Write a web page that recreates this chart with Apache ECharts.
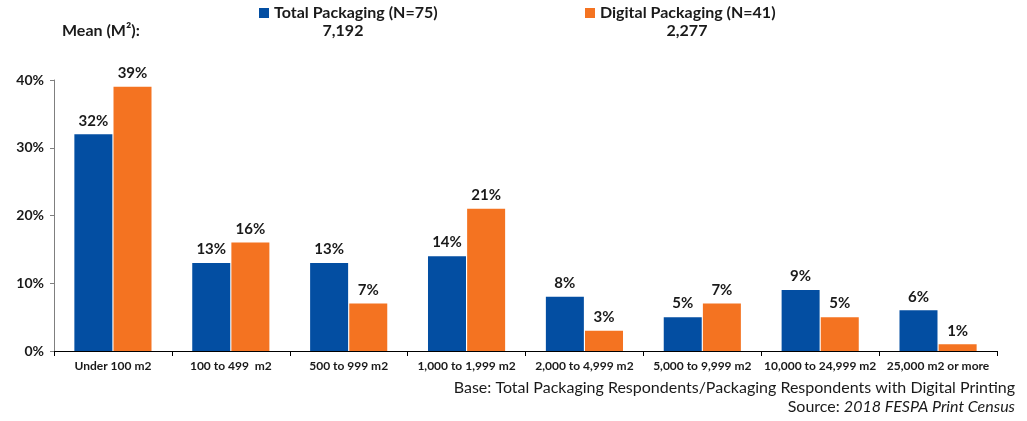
<!DOCTYPE html>
<html>
<head>
<meta charset="utf-8">
<script src="https://cdn.jsdelivr.net/npm/echarts@6/dist/echarts.min.js"></script>
<style>
  html, body { margin: 0; padding: 0; background: #fff; }
  #chart { width: 1027px; height: 421px; }
</style>
</head>
<body>
<div id="chart"></div>
<script>
var categories = ["Under 100 m2", "100 to 499  m2", "500 to 999 m2", "1,000 to 1,999 m2",
  "2,000 to 4,999 m2", "5,000 to 9,999 m2", "10,000 to 24,999 m2", "25,000 m2 or more"];
var totalPackaging = [32, 13, 13, 14, 8, 5, 9, 6];
var digitalPackaging = [39, 16, 7, 21, 3, 7, 5, 1];
var seriesNames = ["Total Packaging (N=75)", "Digital Packaging (N=41)"];
var means = ["7,192", "2,277"];

var font = "Lato";
var chart = echarts.init(document.getElementById("chart"));

var labelStyle = {
  show: true,
  position: "top",
  formatter: "{c}%",
  fontFamily: font,
  fontWeight: "bold",
  fontSize: 15,
  color: "#1a1a1a",
  distance: 6
};

var legendText = { fontFamily: font, fontWeight: "bold", fontSize: 16, color: "#1a1a1a" };

var option = {
  animation: false,
  textStyle: { fontFamily: font },
  legend: [
    {
      data: [seriesNames[0]],
      left: 254, top: 0,
      itemWidth: 10, itemHeight: 10, itemGap: 4,
      icon: "rect",
      textStyle: legendText
    },
    {
      data: [seriesNames[1]],
      left: 580, top: 0,
      itemWidth: 10, itemHeight: 10, itemGap: 4,
      icon: "rect",
      textStyle: legendText
    }
  ],
  grid: { left: 54, right: 30, top: 80, bottom: 70, containLabel: false },
  xAxis: {
    type: "category",
    data: categories,
    axisLine: { lineStyle: { color: "#000", width: 1 } },
    axisTick: { show: true, length: 5, lineStyle: { color: "#000" } },
    axisLabel: {
      interval: 0, margin: 9,
      fontFamily: font, fontWeight: "bold", fontSize: 12, color: "#1a1a1a"
    }
  },
  yAxis: {
    type: "value",
    min: 0, max: 40, interval: 10,
    axisLine: { show: true, lineStyle: { color: "#7f7f7f" } },
    axisTick: { show: true, length: 4, lineStyle: { color: "#7f7f7f" } },
    splitLine: { show: false },
    axisLabel: {
      formatter: "{value}%", margin: 10,
      fontFamily: font, fontWeight: "bold", fontSize: 14, color: "#1a1a1a"
    }
  },
  series: [
    {
      name: seriesNames[0],
      type: "bar",
      data: totalPackaging,
      barWidth: 38,
      barGap: "3%",
      itemStyle: { color: "#034EA2" },
      label: labelStyle
    },
    {
      name: seriesNames[1],
      type: "bar",
      data: digitalPackaging,
      barWidth: 38,
      itemStyle: { color: "#F47321" },
      label: labelStyle
    }
  ],
  graphic: [
    {
      type: "text", left: 62, top: 23,
      style: { text: "Mean (M\u00b2):", fontFamily: font, fontWeight: "bold", fontSize: 16, fill: "#1a1a1a" }
    },
    {
      type: "text", x: 343, y: 23,
      style: { text: means[0], align: "center", fontFamily: font, fontWeight: "bold", fontSize: 16, fill: "#1a1a1a" }
    },
    {
      type: "text", x: 687, y: 23,
      style: { text: means[1], align: "center", fontFamily: font, fontWeight: "bold", fontSize: 16, fill: "#1a1a1a" }
    },
    {
      type: "text", x: 1015, y: 380,
      style: {
        text: "Base: Total Packaging Respondents/Packaging Respondents with Digital Printing",
        align: "right", fontFamily: font, fontSize: 16, fill: "#1a1a1a"
      }
    },
    {
      type: "text", x: 1015, y: 399,
      style: {
        text: "Source: {i|2018 FESPA Print Census}",
        align: "right", fontFamily: font, fontSize: 16, fill: "#1a1a1a",
        rich: { i: { fontFamily: font, fontStyle: "italic", fontSize: 16, fill: "#1a1a1a" } }
      }
    }
  ]
};

chart.setOption(option);
</script>
</body>
</html>
